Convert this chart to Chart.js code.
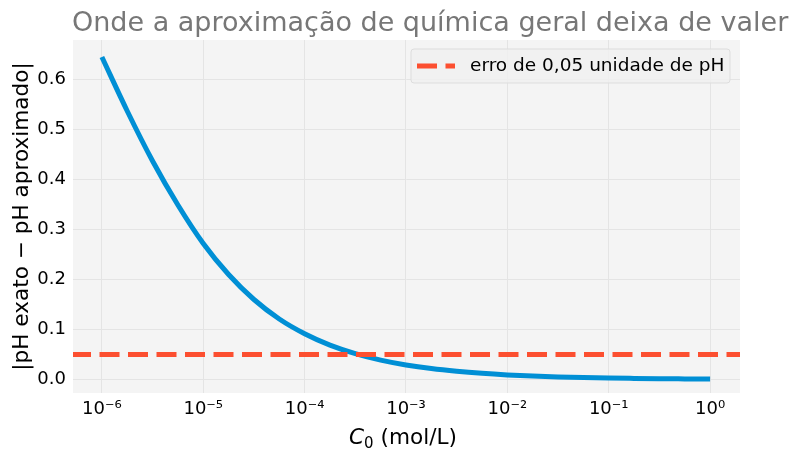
<!DOCTYPE html>
<html>
<head>
<meta charset="utf-8">
<script src="https://cdn.jsdelivr.net/npm/chart.js@4.4.1/dist/chart.umd.min.js"></script>
<style>
  html, body { margin: 0; padding: 0; background: #ffffff; }
  #wrap { width: 800px; height: 461px; position: relative; }
</style>
</head>
<body>
<div id="wrap"><canvas id="phChart"></canvas></div>
<script>
// concentration C0 (mol/L), quarter-decade steps
let concentrations = [
    1e-6, 1.778e-6, 3.162e-6, 5.623e-6,
    1e-5, 1.778e-5, 3.162e-5, 5.623e-5,
    1e-4, 1.778e-4, 3.162e-4, 5.623e-4,
    1e-3, 1.778e-3, 3.162e-3, 5.623e-3,
    1e-2, 1.778e-2, 3.162e-2, 5.623e-2,
    1e-1, 1.778e-1, 3.162e-1, 5.623e-1,
    1
];
// |pH exato - pH aproximado|
let phError = [
    0.645, 0.537, 0.437, 0.349,
    0.272, 0.210, 0.160, 0.121,
    0.0915, 0.0688, 0.0517, 0.0388,
    0.0291, 0.0218, 0.0164, 0.0123,
    0.0092, 0.0069, 0.0052, 0.0039,
    0.0029, 0.0022, 0.0016, 0.0012,
    0.0009
];
let threshold = 0.05;
let xTickExponents = [-6, -5, -4, -3, -2, -1, 0];
let yTicks = [0, 0.1, 0.2, 0.3, 0.4, 0.5, 0.6];

let titleText = "Onde a aproximação de química geral deixa de valer";
let legendText = "erro de 0,05 unidade de pH";

const FONT = "'DejaVu Sans', sans-serif";
const xMin = Math.pow(10, -6.285), xMax = Math.pow(10, 0.295);

function supNum(n) {
    const map = {'-': '\u207B', '0': '\u2070', '1': '\u00B9', '2': '\u00B2', '3': '\u00B3',
        '4': '\u2074', '5': '\u2075', '6': '\u2076', '7': '\u2077', '8': '\u2078', '9': '\u2079'};
    return String(n).split('').map(c => map[c]).join('');
}

// plot background, title, x label and legend box in the matplotlib style
const decorations = {
    id: 'decorations',
    beforeDraw(chart) {
        const {ctx, chartArea: a} = chart;
        ctx.save();
        ctx.fillStyle = '#f4f4f4';
        ctx.fillRect(a.left, a.top, a.right - a.left, a.bottom - a.top);
        ctx.restore();
    },
    afterDraw(chart) {
        const {ctx} = chart;
        ctx.save();
        // title
        ctx.fillStyle = '#777777';
        ctx.font = '27px ' + FONT;
        ctx.textBaseline = 'alphabetic';
        ctx.textAlign = 'left';
        ctx.fillText(titleText, 72, 31);

        // x axis label: italic C, subscript 0
        ctx.fillStyle = '#000000';
        const cx = 349, cy = 444;
        ctx.font = 'italic 21.6px ' + FONT;
        ctx.fillText('C', cx, cy);
        let w = ctx.measureText('C').width;
        ctx.font = '15px ' + FONT;
        ctx.fillText('0', cx + w, cy + 4);
        w += ctx.measureText('0').width;
        ctx.font = '21.6px ' + FONT;
        ctx.fillText(' (mol/L)', cx + w, cy);

        // legend
        const lx = 411, ly = 49, lw = 319, lh = 34;
        ctx.fillStyle = 'rgba(240,240,240,0.8)';
        ctx.strokeStyle = '#dddddd';
        ctx.lineWidth = 1;
        ctx.beginPath();
        ctx.roundRect(lx, ly, lw, lh, 3);
        ctx.fill();
        ctx.stroke();
        ctx.strokeStyle = '#fc4f30';
        ctx.lineWidth = 5;
        ctx.setLineDash([20, 8.5]);
        ctx.beginPath();
        ctx.moveTo(417, 66);
        ctx.lineTo(455, 66);
        ctx.stroke();
        ctx.setLineDash([]);
        ctx.fillStyle = '#000000';
        ctx.font = '18.5px ' + FONT;
        ctx.textBaseline = 'middle';
        ctx.fillText(legendText, 470, 66);
        ctx.restore();
    }
};

const ctx = document.getElementById('phChart').getContext('2d');
window.phChart = new Chart(ctx, {
    type: 'line',
    data: {
        datasets: [
            {
                label: 'curve',
                data: concentrations.map((c, i) => ({x: c, y: phError[i]})),
                borderColor: '#008fd5',
                borderWidth: 5,
                pointRadius: 0,
                cubicInterpolationMode: 'monotone',
                order: 2
            },
            {
                label: legendText,
                data: [{x: xMin, y: threshold}, {x: xMax, y: threshold}],
                borderColor: '#fc4f30',
                borderWidth: 5,
                borderDash: [20, 8.5],
                borderDashOffset: 2,
                pointRadius: 0,
                order: 1
            }
        ]
    },
    options: {
        responsive: true,
        maintainAspectRatio: false,
        animation: false,
        layout: {padding: {top: 40, right: 60, left: 0, bottom: 0}},
        plugins: {
            legend: {display: false},
            tooltip: {enabled: false}
        },
        scales: {
            x: {
                type: 'logarithmic',
                min: xMin,
                max: xMax,
                afterBuildTicks: scale => {
                    scale.ticks = xTickExponents.map(e => ({value: Math.pow(10, e)}));
                },
                afterFit: scale => { scale.height = 68; },
                ticks: {
                    autoSkip: false,
                    maxRotation: 0,
                    padding: 6,
                    color: '#000000',
                    font: {family: FONT, size: 18},
                    callback: v => '10' + supNum(Math.round(Math.log10(v)))
                },
                grid: {color: '#e4e4e4', lineWidth: 1, drawTicks: false},
                border: {display: false}
            },
            y: {
                min: -0.027,
                max: 0.679,
                afterBuildTicks: scale => {
                    scale.ticks = yTicks.map(v => ({value: v}));
                },
                afterFit: scale => { scale.width = 73; },
                ticks: {
                    padding: 7,
                    color: '#000000',
                    font: {family: FONT, size: 18},
                    callback: v => v.toFixed(1)
                },
                grid: {color: '#e4e4e4', lineWidth: 1, drawTicks: false},
                border: {display: false},
                title: {
                    display: true,
                    text: '|pH exato \u2212 pH aproximado|',
                    color: '#000000',
                    font: {family: FONT, size: 21.6},
                    padding: {top: 9, bottom: 0}
                }
            }
        }
    },
    plugins: [decorations]
});
</script>
</body>
</html>
